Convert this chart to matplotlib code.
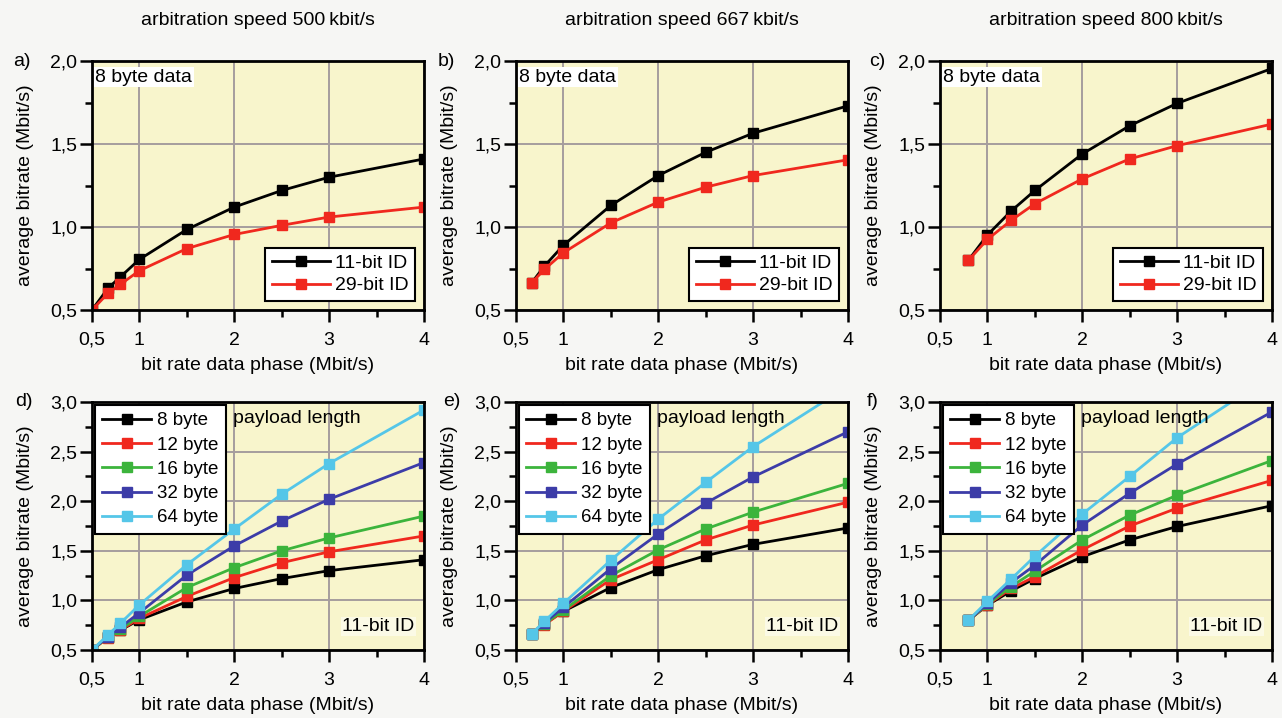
import matplotlib
matplotlib.use("Agg")
import matplotlib.pyplot as plt

plt.rcParams['font.family'] = ['Liberation Sans', 'DejaVu Sans']

# ---------------- data ----------------
titles = ["arbitration speed 500\u2009kbit/s", "arbitration speed 667\u2009kbit/s",
          "arbitration speed 800\u2009kbit/s"]
panel_labels_top = ["a)", "b)", "c)"]
panel_labels_bot = ["d)", "e)", "f)"]

x500 = [0.5, 0.667, 0.8, 1.0, 1.5, 2.0, 2.5, 3.0, 4.0]
x667 = [0.667, 0.8, 1.0, 1.5, 2.0, 2.5, 3.0, 4.0]
x800 = [0.8, 1.0, 1.25, 1.5, 2.0, 2.5, 3.0, 4.0]

a11 = [0.50, 0.63, 0.70, 0.805, 0.985, 1.12, 1.22, 1.30, 1.41]
a29 = [0.50, 0.60, 0.655, 0.737, 0.87, 0.955, 1.01, 1.06, 1.12]
b11 = [0.665, 0.765, 0.89, 1.13, 1.31, 1.45, 1.565, 1.73]
b29 = [0.665, 0.745, 0.845, 1.025, 1.15, 1.24, 1.31, 1.405]
c11 = [0.80, 0.952, 1.096, 1.22, 1.44, 1.61, 1.745, 1.955]
c29 = [0.80, 0.925, 1.04, 1.14, 1.29, 1.41, 1.49, 1.62]

d8 = a11
d12 = [0.50, 0.625, 0.70, 0.82, 1.04, 1.23, 1.38, 1.49, 1.65]
d16 = [0.50, 0.63, 0.71, 0.84, 1.13, 1.33, 1.50, 1.63, 1.85]
d32 = [0.50, 0.635, 0.73, 0.875, 1.255, 1.55, 1.80, 2.02, 2.39]
d64 = [0.50, 0.65, 0.77, 0.955, 1.36, 1.72, 2.07, 2.38, 2.92]

e8 = b11
e12 = [0.665, 0.755, 0.89, 1.21, 1.41, 1.61, 1.76, 1.99]
e16 = [0.665, 0.765, 0.90, 1.25, 1.51, 1.72, 1.89, 2.18]
e32 = [0.665, 0.775, 0.93, 1.32, 1.67, 1.98, 2.245, 2.70]
e64 = [0.665, 0.79, 0.97, 1.405, 1.82, 2.19, 2.55, 3.16]

f8 = c11
f12 = [0.80, 0.955, 1.12, 1.24, 1.51, 1.75, 1.93, 2.21]
f16 = [0.80, 0.96, 1.14, 1.295, 1.61, 1.86, 2.06, 2.41]
f32 = [0.80, 0.97, 1.18, 1.355, 1.76, 2.08, 2.375, 2.90]
f64 = [0.80, 0.99, 1.215, 1.445, 1.87, 2.25, 2.64, 3.27]

id_labels = ["11-bit ID", "29-bit ID"]
payload_labels = ["8 byte", "12 byte", "16 byte", "32 byte", "64 byte"]

xticks = [0.5, 1, 2, 3, 4]
xticklabels = ["0,5", "1", "2", "3", "4"]
xminor = [1.5, 2.5, 3.5]
yticks_top = [0.5, 1.0, 1.5, 2.0]
yticklabels_top = ["0,5", "1,0", "1,5", "2,0"]
yminor_top = [0.75, 1.25, 1.75]
yticks_bot = [0.5, 1.0, 1.5, 2.0, 2.5, 3.0]
yticklabels_bot = ["0,5", "1,0", "1,5", "2,0", "2,5", "3,0"]
yminor_bot = [0.75, 1.25, 1.75, 2.25, 2.75]

# ---------------- styling ----------------
FACE = '#f8f5cc'
GRID = '#a59d9d'
ID_COLORS = ['#000000', '#f0281e']
PAY_COLORS = ['#000000', '#f0281e', '#3cb43c', '#3c3ca8', '#55c6e8']
FS = 14

fig = plt.figure(figsize=(12.82, 7.18), dpi=100, facecolor='#f6f6f4')

lefts = [92, 516, 940]
W = 332
top_row = (61, 310)
bot_row = (402, 650)
label_x_top = [13, 438, 869]
label_x_bot = [15, 443, 867]


def make_ax(left_px, row):
    t, b = row
    ax = fig.add_axes([left_px / 1282, (718 - b) / 718, W / 1282, (b - t) / 718])
    ax.set_facecolor(FACE)
    for s in ax.spines.values():
        s.set_linewidth(2.0)
        s.set_color('black')
    ax.set_xlim(0.5, 4)
    ax.set_xticks(xticks)
    ax.set_xticklabels(xticklabels)
    ax.set_xticks(xminor, minor=True)
    ax.tick_params(axis='both', which='major', direction='out', length=8.5, width=1.8,
                   labelsize=FS, top=False, right=False)
    ax.tick_params(axis='both', which='minor', direction='out', length=5, width=1.8,
                   top=False, right=False)
    ax.tick_params(axis='y', which='major', pad=2)
    ax.tick_params(axis='x', which='major', pad=7)
    ax.grid(True, which='major', color=GRID, linewidth=1.4)
    ax.set_axisbelow(True)
    ax.set_xlabel("bit rate data phase (Mbit/s)", fontsize=FS)
    ax.set_ylabel("average bitrate (Mbit/s)", fontsize=FS)
    ax.xaxis.set_label_coords(0.5, -0.19)
    ax.yaxis.set_label_coords(-0.175, 0.5)
    return ax


top_data = [(x500, a11, a29), (x667, b11, b29), (x800, c11, c29)]
bot_data = [(x500, [d8, d12, d16, d32, d64]),
            (x667, [e8, e12, e16, e32, e64]),
            (x800, [f8, f12, f16, f32, f64])]

for i in range(3):
    # top row
    ax = make_ax(lefts[i], top_row)
    ax.set_ylim(0.5, 2.0)
    ax.set_yticks(yticks_top)
    ax.set_yticklabels(yticklabels_top)
    ax.set_yticks(yminor_top, minor=True)
    xs, y11, y29 = top_data[i]
    for ys, col, lab in zip([y11, y29], ID_COLORS, id_labels):
        ax.plot(xs, ys, color=col, lw=2.0, marker='s', ms=6.5, mec=col, mfc=col, label=lab)
    leg = ax.legend(loc='lower right', fontsize=FS, frameon=True, fancybox=False,
                    framealpha=1, edgecolor='black', handlelength=3.0, numpoints=1,
                    labelspacing=0.25, borderpad=0.35, handletextpad=0.25,
                    borderaxespad=0.45)
    leg.get_frame().set_linewidth(1.5)
    ax.text(0.01, 0.935, "8 byte data", transform=ax.transAxes, fontsize=FS,
            ha='left', va='center',
            bbox=dict(facecolor='white', edgecolor='none', pad=1.0))
    ax.set_title(titles[i], fontsize=FS, pad=26)
    fig.text(label_x_top[i] / 1282, 1 - 62 / 718, panel_labels_top[i], fontsize=FS,
             ha='left', va='center')

    # bottom row
    ax = make_ax(lefts[i], bot_row)
    ax.set_ylim(0.5, 3.0)
    ax.set_yticks(yticks_bot)
    ax.set_yticklabels(yticklabels_bot)
    ax.set_yticks(yminor_bot, minor=True)
    xs, series = bot_data[i]
    for ys, col, lab in zip(series, PAY_COLORS, payload_labels):
        ax.plot(xs, ys, color=col, lw=2.0, marker='s', ms=6.5, mec=col, mfc=col, label=lab)
    leg = ax.legend(loc='upper left', fontsize=FS - 0.5, frameon=True, fancybox=False,
                    framealpha=1, edgecolor='black', handlelength=2.6, numpoints=1,
                    labelspacing=0.38, borderpad=0.4, handletextpad=0.3,
                    borderaxespad=0.15)
    leg.get_frame().set_linewidth(1.5)
    ax.text(0.425, 0.935, "payload length", transform=ax.transAxes, fontsize=FS,
            ha='left', va='center')
    ax.text(0.972, 0.095, "11-bit ID", transform=ax.transAxes, fontsize=FS,
            ha='right', va='center',
            bbox=dict(facecolor='#fbfae6', edgecolor='none', pad=1.0))
    fig.text(label_x_bot[i] / 1282, 1 - 402 / 718, panel_labels_bot[i], fontsize=FS,
             ha='left', va='center')

fig.savefig("out.png", dpi=100, facecolor=fig.get_facecolor())
